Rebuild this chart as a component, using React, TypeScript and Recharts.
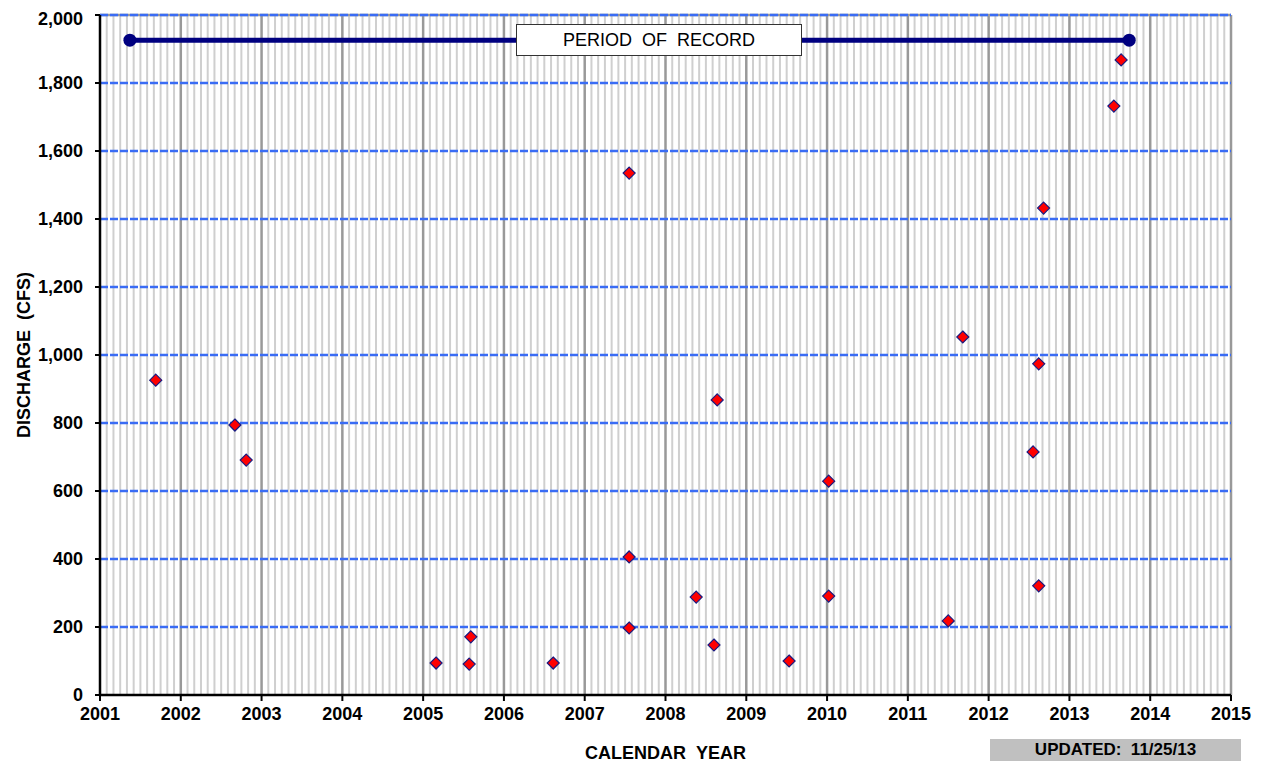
import React from 'react';
import {
  ScatterChart,
  Scatter,
  XAxis,
  YAxis,
  ReferenceLine,
  Label,
} from 'recharts';

// sampled discharge measurements (decimal year, cfs)
const sampleYears = [
  2001.69, 2002.67, 2002.81, 2005.16, 2005.57, 2005.59, 2006.61, 2007.55, 2007.55, 2007.55,
  2008.38, 2008.6, 2008.64, 2009.53, 2010.02, 2010.02, 2011.5, 2011.68, 2012.55, 2012.62,
  2012.62, 2012.68, 2013.55, 2013.64,
];
const sampleCfs = [
  926, 794, 691, 94, 91, 171, 94, 1535, 406, 197,
  288, 147, 868, 100, 629, 291, 218, 1053, 715, 974,
  321, 1432, 1732, 1868,
];

// period of record bar
const recordYears = [2001.37, 2013.74];
const recordLevel = 1926;

const yearTicks = [2001, 2002, 2003, 2004, 2005, 2006, 2007, 2008, 2009, 2010, 2011, 2012, 2013, 2014, 2015];
const cfsTicks = [0, 200, 400, 600, 800, 1000, 1200, 1400, 1600, 1800, 2000];
const monthTicks = yearTicks.slice(0, -1).flatMap((y) =>
  [1, 2, 3, 4, 5, 6, 7, 8, 9, 10, 11].map((m) => y + m / 12)
);

const samples = sampleYears.map((x, i) => ({ x, y: sampleCfs[i] }));
const record = recordYears.map((x) => ({ x, y: recordLevel }));

const FONT = '"Liberation Sans", Arial, sans-serif';

const Diamond = (props: any) => {
  const { cx, cy } = props;
  if (cx == null || cy == null) return null;
  const r = 6;
  return (
    <polygon
      points={`${cx},${cy - r} ${cx + r},${cy} ${cx},${cy + r} ${cx - r},${cy}`}
      fill="#ff0000"
      stroke="#1a1a80"
      strokeWidth={1.2}
    />
  );
};

const RecordDot = (props: any) => {
  const { cx, cy } = props;
  if (cx == null || cy == null) return null;
  return <circle cx={cx} cy={cy} r={6.5} fill="#000080" />;
};

export default function App() {
  const tickStyle = { fontFamily: FONT, fontSize: 18, fontWeight: 700, fill: '#000' };
  return (
    <div style={{ position: 'relative', width: 1250, height: 755, fontFamily: FONT }}>
      <ScatterChart
        width={1250}
        height={755}
        margin={{ top: 7, right: 27, left: 0, bottom: 8 }}
      >
        <XAxis
          type="number"
          dataKey="x"
          domain={[2001, 2015]}
          ticks={yearTicks}
          allowDataOverflow
          height={60}
          tick={tickStyle}
          tickSize={6}
          tickMargin={6}
          axisLine={{ stroke: '#000', strokeWidth: 2.5 }}
          tickLine={{ stroke: '#000', strokeWidth: 2 }}
        >
          <Label
            value={'CALENDAR\u00a0\u00a0YEAR'}
            position="insideBottom"
            offset={-4}
            style={{ fontFamily: FONT, fontSize: 18, fontWeight: 700, fill: '#000' }}
          />
        </XAxis>
        <YAxis
          type="number"
          dataKey="y"
          domain={[0, 2000]}
          ticks={cfsTicks}
          allowDataOverflow
          width={92}
          tick={tickStyle}
          tickSize={5}
          tickMargin={12}
          tickFormatter={(v: number) => v.toLocaleString('en-US')}
          axisLine={{ stroke: '#000', strokeWidth: 2.5 }}
          tickLine={{ stroke: '#000', strokeWidth: 2 }}
        >
          <Label
            value={'DISCHARGE\u00a0\u00a0(CFS)'}
            angle={-90}
            position="insideLeft"
            offset={16}
            style={{ fontFamily: FONT, fontSize: 18, fontWeight: 700, fill: '#000', textAnchor: 'middle' }}
          />
        </YAxis>

        {monthTicks.map((m) => (
          <ReferenceLine key={`m${m}`} x={m} stroke="#cfcfcf" strokeWidth={2} />
        ))}
        {yearTicks.slice(1).map((y) => (
          <ReferenceLine key={`y${y}`} x={y} stroke="#999999" strokeWidth={2.5} />
        ))}
        <ReferenceLine y={2000} stroke="#999999" strokeWidth={2.5} />
        {cfsTicks.slice(1).map((v) => (
          <ReferenceLine key={`h${v}`} y={v} stroke="#3a6cf4" strokeWidth={2.5} strokeDasharray="8 2" />
        ))}

        <Scatter
          data={record}
          line={{ stroke: '#000080', strokeWidth: 5 }}
          shape={<RecordDot />}
          isAnimationActive={false}
        />
        <Scatter data={samples} shape={<Diamond />} isAnimationActive={false} />
      </ScatterChart>

      <div
        style={{
          position: 'absolute',
          left: 508,
          top: 16,
          width: 284,
          height: 30,
          border: '1px solid #333',
          background: '#fff',
          display: 'flex',
          alignItems: 'center',
          justifyContent: 'center',
          fontSize: 18,
          color: '#000',
        }}
      >
        PERIOD&nbsp;&nbsp;OF&nbsp;&nbsp;RECORD
      </div>
      <div
        style={{
          position: 'absolute',
          left: 982,
          top: 731,
          width: 251,
          height: 22,
          background: '#c0c0c0',
          display: 'flex',
          alignItems: 'center',
          justifyContent: 'center',
          fontSize: 17,
          fontWeight: 700,
          color: '#000',
          whiteSpace: 'pre',
        }}
      >
        {'UPDATED:  11/25/13'}
      </div>
    </div>
  );
}
